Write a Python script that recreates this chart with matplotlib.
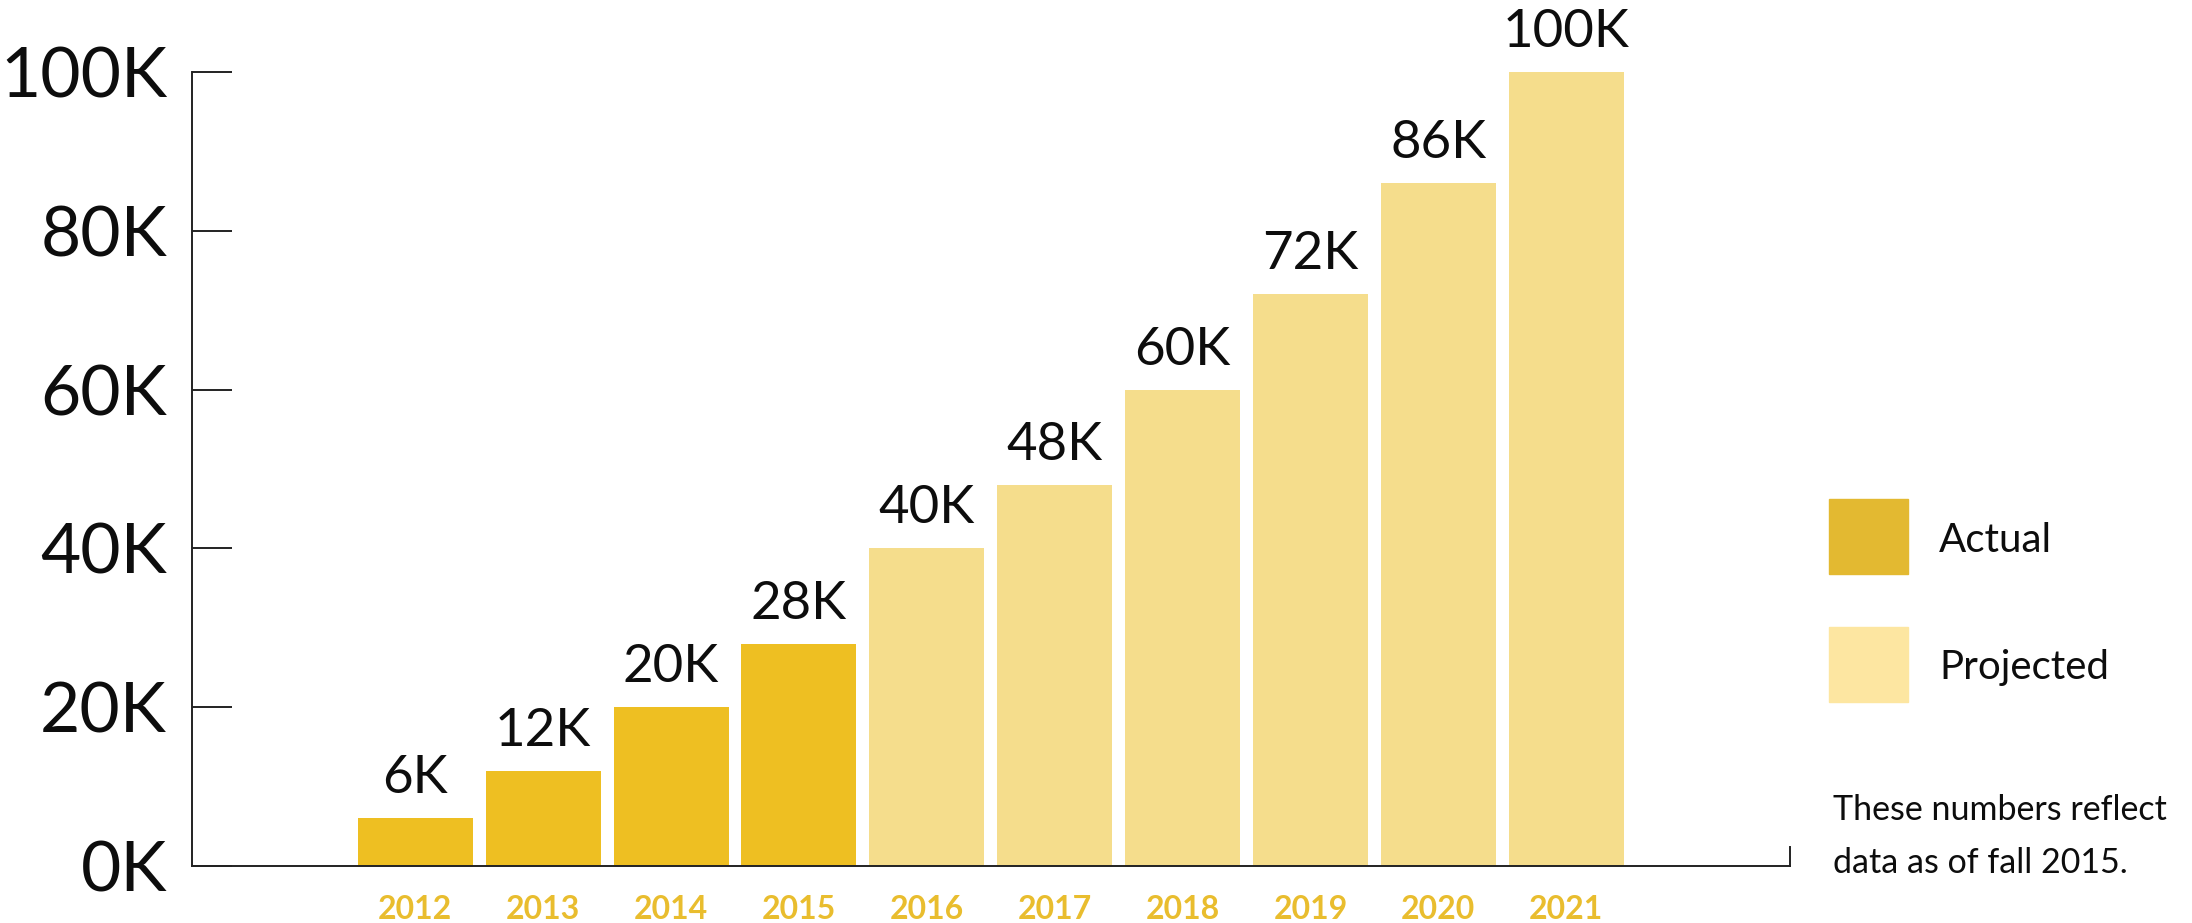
import matplotlib
matplotlib.use("Agg")
import matplotlib.pyplot as plt
from matplotlib.patches import Rectangle

# yearly counts, actual vs projected
years = ["2012", "2013", "2014", "2015", "2016", "2017", "2018", "2019", "2020", "2021"]
values = [6000, 12000, 20000, 28000, 40000, 48000, 60000, 72000, 86000, 100000]
is_actual = [True, True, True, True, False, False, False, False, False, False]
yticks = [0, 20000, 40000, 60000, 80000, 100000]
ytick_labels = ["0K", "20K", "40K", "60K", "80K", "100K"]
value_labels = ["6K", "12K", "20K", "28K", "40K", "48K", "60K", "72K", "86K", "100K"]

actual_col = "#EEBF22"
projected_col = "#F5DD8C"
legend_actual = "#E3B931"
legend_projected = "#FDE6A1"
year_col = "#E9BD2E"
ink = "#0d0d0d"

plt.rcParams["font.family"] = ["Lato", "DejaVu Sans"]

W, H = 2192, 923
fig = plt.figure(figsize=(W / 100, H / 100), dpi=100)

def fx(px):
    return px / W

def fy(py):
    return (H - py) / H

# axes box: y spine at x=192px, baseline at y=866px, top (100K) at y=72px
ax = fig.add_axes([fx(192), fy(866), fx(1790) - fx(192), fy(72) - fy(866)])

x = list(range(len(years)))
colors = [actual_col if a else projected_col for a in is_actual]
ax.bar(x, values, width=0.9, color=colors, zorder=2)

for xi, v, lab in zip(x, values, value_labels):
    ax.annotate(lab, (xi, v), xytext=(0, 18), textcoords="offset points",
                ha="center", va="baseline", fontsize=38, color=ink)

ax.set_xlim(-1.747, 10.751)
ax.set_ylim(0, 100000)

ax.set_yticks(yticks)
ax.set_yticklabels(ytick_labels, fontsize=50, color=ink)
ax.tick_params(axis="y", direction="in", length=29, width=1.4, pad=18, color="#222222")

ax.set_xticks(x)
ax.set_xticklabels(years, fontsize=23, fontweight="bold", color=year_col)
ax.tick_params(axis="x", length=0, pad=21)

for s in ["top", "right"]:
    ax.spines[s].set_visible(False)
for s in ["left", "bottom"]:
    ax.spines[s].set_linewidth(1.4)
    ax.spines[s].set_color("#222222")

# small end mark at the right of the baseline
ax.axvline(10.751, ymin=0, ymax=0.024, color="#222222", lw=1.4, clip_on=False)

# legend swatches
fig.add_artist(Rectangle((fx(1829), fy(574)), fx(1908) - fx(1829), fy(499) - fy(574),
                         transform=fig.transFigure, color=legend_actual))
fig.add_artist(Rectangle((fx(1829), fy(702)), fx(1908) - fx(1829), fy(627) - fy(702),
                         transform=fig.transFigure, color=legend_projected))
fig.text(fx(1939), fy(537), "Actual", fontsize=29, va="center_baseline", ha="left", color=ink)
fig.text(fx(1939), fy(664), "Projected", fontsize=29, va="center_baseline", ha="left", color=ink)

fig.text(fx(1833), fy(820), "These numbers reflect", fontsize=24.5, va="baseline", ha="left", color=ink)
fig.text(fx(1833), fy(873), "data as of fall 2015.", fontsize=24.5, va="baseline", ha="left", color=ink)

fig.savefig("out.png", dpi=100, facecolor="white")
